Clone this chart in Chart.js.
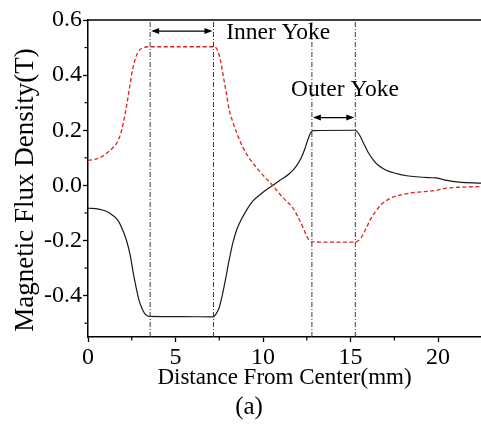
<!DOCTYPE html>
<html><head><meta charset="utf-8">
<script src="https://cdn.jsdelivr.net/npm/chart.js@4.4.1/dist/chart.umd.min.js"></script>
<style>html,body{margin:0;padding:0;background:#fff;}</style>
</head><body>
<canvas id="c" width="481" height="426" style="width:481px;height:426px;display:block"></canvas>
<script>
// ---- data ----
const blackX = [0, 0.6, 1.0, 1.4, 1.7, 1.97, 2.2, 2.4, 2.63, 2.92, 3.1, 3.25, 3.5, 5.3, 7.15, 7.3, 7.5, 7.7, 7.88, 8.05, 8.26, 8.5, 8.75, 9.1, 9.4, 10.0, 10.55, 11.0, 11.5, 11.9, 12.2, 12.4, 12.55, 12.7, 12.85, 15.25, 15.4, 15.55, 15.75, 16.0, 16.3, 16.6, 17.0, 17.5, 18.2, 19.5, 19.9, 20.5, 21.2, 22.45];
const blackY = [-0.083, -0.086, -0.093, -0.108, -0.126, -0.160, -0.200, -0.250, -0.333, -0.418, -0.448, -0.466, -0.475, -0.476, -0.477, -0.468, -0.442, -0.390, -0.333, -0.275, -0.212, -0.160, -0.125, -0.085, -0.058, -0.025, 0.0, 0.020, 0.042, 0.070, 0.103, 0.135, 0.164, 0.188, 0.199, 0.200, 0.193, 0.178, 0.152, 0.120, 0.092, 0.072, 0.056, 0.045, 0.035, 0.028, 0.027, 0.018, 0.012, 0.008];
const redX = [0, 0.63, 1.2, 1.5, 1.7, 1.9, 2.16, 2.35, 2.54, 2.75, 2.92, 3.2, 3.5, 5.3, 7.2, 7.4, 7.55, 7.7, 7.9, 8.07, 8.3, 8.5, 8.84, 9.2, 9.6, 10.1, 10.55, 11.0, 11.3, 11.7, 12.0, 12.3, 12.5, 12.65, 12.8, 15.25, 15.45, 15.6, 15.75, 15.95, 16.1, 16.4, 16.7, 17.0, 17.4, 18.4, 19.9, 20.5, 21.5, 22.45];
const redY = [0.091, 0.099, 0.124, 0.142, 0.160, 0.195, 0.273, 0.345, 0.418, 0.468, 0.490, 0.500, 0.503, 0.503, 0.503, 0.490, 0.458, 0.406, 0.335, 0.273, 0.225, 0.190, 0.139, 0.100, 0.067, 0.030, 0.0, -0.035, -0.055, -0.082, -0.115, -0.155, -0.185, -0.200, -0.205, -0.206, -0.200, -0.190, -0.173, -0.148, -0.127, -0.097, -0.073, -0.057, -0.043, -0.028, -0.018, -0.010, -0.006, -0.004];
const yokeBounds = [3.55, 7.17, 12.79, 15.27];
const yokeNames = ['Inner Yoke', 'Outer Yoke'];
const arrowLevels = [0.56, 0.246];
const labelX = [7.9, 11.6];
const labelY = [0.553, 0.345];
const xMajorTicks = [0, 5, 10, 15, 20];
const xMinorTicks = [2.5, 7.5, 12.5, 17.5];
const yMajorTicks = [-0.4, -0.2, 0.0, 0.2, 0.4, 0.6];
const yMinorTicks = [-0.5, -0.3, -0.1, 0.1, 0.3, 0.5];
const xRange = [0, 22.45];
const yRange = [-0.55, 0.6];
const xTitle = 'Distance From Center(mm)';
const yTitle = 'Magnetic Flux Density(T)';
const panelLabel = '(a)';

const SERIF = '"Liberation Serif","Times New Roman",serif';
const pts = (xs, ys) => xs.map((x, i) => ({x, y: ys[i]}));

const datasets = [];
yokeBounds.forEach(b => datasets.push({
  data: [{x: b, y: yRange[0]}, {x: b, y: yRange[1]}],
  borderColor: '#3a3a3a', borderWidth: 1, borderDash: [5, 2, 1, 2],
  pointRadius: 0, fill: false
}));
datasets.push({
  data: pts(redX, redY), borderColor: '#e0201b', borderWidth: 1.3,
  borderDash: [4, 2.5], pointRadius: 0, fill: false, cubicInterpolationMode: 'monotone'
});
datasets.push({
  data: pts(blackX, blackY), borderColor: '#1a1a1a', borderWidth: 1.2,
  pointRadius: 0, fill: false, cubicInterpolationMode: 'monotone'
});

const decor = {
  id: 'decor',
  afterDatasetsDraw(chart) {
    const {ctx, chartArea: ca, scales: {x, y}} = chart;
    ctx.save();
    ctx.strokeStyle = '#000';
    // top frame
    ctx.lineWidth = 1.5;
    ctx.beginPath(); ctx.moveTo(ca.left, ca.top); ctx.lineTo(ca.right, ca.top); ctx.stroke();
    // minor ticks
    ctx.lineWidth = 1.2;
    xMinorTicks.forEach(v => {
      const px = x.getPixelForValue(v);
      ctx.beginPath(); ctx.moveTo(px, ca.bottom); ctx.lineTo(px, ca.bottom + 3.5); ctx.stroke();
    });
    yMinorTicks.forEach(v => {
      const py = y.getPixelForValue(v);
      ctx.beginPath(); ctx.moveTo(ca.left, py); ctx.lineTo(ca.left - 3.5, py); ctx.stroke();
    });
    // arrows
    ctx.lineWidth = 1.3; ctx.fillStyle = '#000';
    for (let i = 0; i < 2; i++) {
      const x1 = x.getPixelForValue(yokeBounds[2 * i]) + 1;
      const x2 = x.getPixelForValue(yokeBounds[2 * i + 1]) - 1;
      const py = y.getPixelForValue(arrowLevels[i]);
      ctx.beginPath(); ctx.moveTo(x1 + 4, py); ctx.lineTo(x2 - 4, py); ctx.stroke();
      ctx.beginPath(); ctx.moveTo(x1, py); ctx.lineTo(x1 + 8, py - 3); ctx.lineTo(x1 + 8, py + 3); ctx.closePath(); ctx.fill();
      ctx.beginPath(); ctx.moveTo(x2, py); ctx.lineTo(x2 - 8, py - 3); ctx.lineTo(x2 - 8, py + 3); ctx.closePath(); ctx.fill();
      ctx.font = '23.5px ' + SERIF;
      ctx.textAlign = 'left'; ctx.textBaseline = 'middle';
      ctx.fillText(yokeNames[i], x.getPixelForValue(labelX[i]), y.getPixelForValue(labelY[i]));
    }
    // y-axis title (drawn here to match the reference's off-centre placement)
    ctx.save();
    ctx.translate(26, 190);
    ctx.rotate(-Math.PI / 2);
    ctx.font = '27px ' + SERIF;
    ctx.textAlign = 'center'; ctx.textBaseline = 'middle';
    ctx.fillText(yTitle, 0, 0);
    ctx.restore();
    // panel label
    ctx.font = '25px ' + SERIF;
    ctx.textAlign = 'center'; ctx.textBaseline = 'middle';
    ctx.fillText(panelLabel, x.getPixelForValue(9.2), 407);
    ctx.restore();
  }
};

new Chart(document.getElementById('c'), {
  type: 'line',
  data: {datasets},
  options: {
    responsive: false, animation: false, devicePixelRatio: 1,
    layout: {padding: {top: 20, right: 0, left: 0, bottom: 0}},
    plugins: {legend: {display: false}, tooltip: {enabled: false}},
    scales: {
      x: {
        type: 'linear', min: xRange[0], max: xRange[1],
        afterBuildTicks: s => { s.ticks = xMajorTicks.map(v => ({value: v})); },
        afterFit: s => { s.height = 89; },
        grid: {drawOnChartArea: false, drawTicks: true, tickLength: 5, color: '#000', tickWidth: 1.3},
        border: {display: true, color: '#000', width: 1.5},
        ticks: {color: '#000', font: {family: SERIF, size: 24}, padding: 1, maxRotation: 0,
          callback: v => String(v)},
        title: {display: true, text: xTitle, color: '#000', font: {family: SERIF, size: 23, lineHeight: 1.2}, padding: {top: 0, bottom: 34}}
      },
      y: {
        type: 'linear', min: yRange[0], max: yRange[1],
        afterBuildTicks: s => { s.ticks = yMajorTicks.map(v => ({value: v})); },
        afterFit: s => { s.width = 88; },
        grid: {drawOnChartArea: false, drawTicks: true, tickLength: 5, color: '#000', tickWidth: 1.3},
        border: {display: true, color: '#000', width: 1.5},
        ticks: {color: '#000', font: {family: SERIF, size: 24}, padding: 1,
          callback: v => Number(v).toFixed(1)},
        title: {display: false}
      }
    }
  },
  plugins: [decor]
});
</script>
</body></html>
